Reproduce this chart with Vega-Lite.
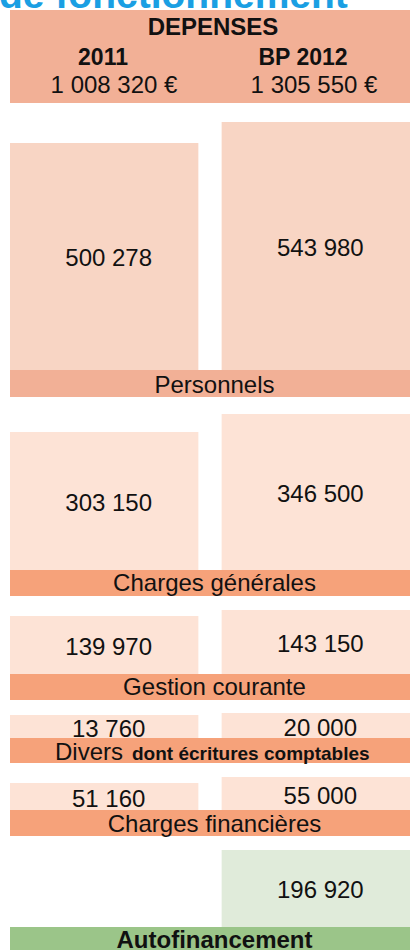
{
  "$schema": "https://vega.github.io/schema/vega-lite/v6.json",
  "background": "white",
  "padding": 0,
  "spacing": 0,
  "center": true,
  "bounds": "flush",
  "datasets": {
    "depenses": [
      {"rubrique": "Personnels", "annee": "2011", "montant": 500278},
      {"rubrique": "Personnels", "annee": "BP 2012", "montant": 543980},
      {"rubrique": "Charges générales", "annee": "2011", "montant": 303150},
      {"rubrique": "Charges générales", "annee": "BP 2012", "montant": 346500},
      {"rubrique": "Gestion courante", "annee": "2011", "montant": 139970},
      {"rubrique": "Gestion courante", "annee": "BP 2012", "montant": 143150},
      {"rubrique": "Divers", "annee": "2011", "montant": 13760},
      {"rubrique": "Divers", "annee": "BP 2012", "montant": 20000},
      {"rubrique": "Charges financières", "annee": "2011", "montant": 51160},
      {"rubrique": "Charges financières", "annee": "BP 2012", "montant": 55000},
      {"rubrique": "Autofinancement", "annee": "BP 2012", "montant": 196920}
    ],
    "totaux": [
      {"annee": "2011", "total": 1008320},
      {"annee": "BP 2012", "total": 1305550}
    ],
    "rubriques": [
      {"rubrique": "Personnels"},
      {"rubrique": "Charges générales"},
      {"rubrique": "Gestion courante"},
      {"rubrique": "Divers", "precision": "dont écritures comptables"},
      {"rubrique": "Charges financières"},
      {"rubrique": "Autofinancement"}
    ]
  },
  "vconcat": [
    {
      "width": 420, "height": 10,
      "data": {"values": [{"titre": "de fonctionnement"}]},
      "mark": {"type": "text", "clip": true, "align": "left", "baseline": "alphabetic", "dx": -211, "dy": 2.5, "fontSize": 39, "fontWeight": "bold", "color": "#1a9fe3"},
      "encoding": {"text": {"field": "titre"}}
    },
    {
      "width": 400, "height": 93,
      "view": {"fill": "#f2b096", "stroke": null},
      "layer": [
        {
          "data": {"values": [{"entete": "DEPENSES"}]},
          "mark": {"type": "text", "fontSize": 24, "fontWeight": "bold", "baseline": "alphabetic", "dx": 3, "dy": -21.5, "color": "#111111"},
          "encoding": {"text": {"field": "entete"}}
        },
        {
          "data": {"name": "totaux"},
          "mark": {"type": "text", "fontSize": 23, "fontWeight": "bold", "baseline": "alphabetic", "dx": -7, "dy": 8.5, "color": "#111111"},
          "encoding": {
            "x": {"field": "annee", "type": "nominal", "scale": {"domain": ["2011", "BP 2012"], "paddingInner": 0.11, "paddingOuter": 0}, "axis": null},
            "text": {"field": "annee"}
          }
        },
        {
          "data": {"name": "totaux"},
          "mark": {"type": "text", "fontSize": 24, "baseline": "alphabetic", "dx": 4, "dy": 36.8, "color": "#111111"},
          "encoding": {
            "x": {"field": "annee", "type": "nominal", "scale": {"domain": ["2011", "BP 2012"], "paddingInner": 0.11, "paddingOuter": 0}, "axis": null},
            "text": {"field": "total", "type": "quantitative", "format": "$,.0f"}
          }
        }
      ]
    },
    {
      "width": 400, "height": 267,
      "data": {"name": "depenses"},
      "transform": [{"filter": {"field": "rubrique", "equal": "Personnels"}}],
      "encoding": {"x": {"field": "annee", "type": "nominal", "scale": {"domain": ["2011", "BP 2012"], "paddingInner": 0.11, "paddingOuter": 0}, "axis": null}},
      "layer": [
        {"mark": {"type": "bar", "color": "#f8d5c4"},
         "encoding": {"y": {"field": "montant", "type": "quantitative", "scale": {"domain": [27881, 583518], "zero": false, "nice": false}, "axis": null}, "y2": {"datum": 27881}}},
        {"mark": {"type": "text", "fontSize": 24, "baseline": "middle", "dx": 4.5, "dy": 3, "color": "#111111"},
         "encoding": {"y": {"field": "montant", "type": "quantitative", "scale": {"domain": [27881, 1139155], "zero": false, "nice": false}, "axis": null}, "text": {"field": "montant", "type": "quantitative", "format": ",.0f"}}}
      ],
      "resolve": {"scale": {"y": "independent"}}
    },
    {
      "width": 400, "height": 27,
      "view": {"fill": "#f2b096", "stroke": null},
      "data": {"name": "rubriques"},
      "transform": [{"filter": {"field": "rubrique", "equal": "Personnels"}}],
      "mark": {"type": "text", "fontSize": 24, "baseline": "alphabetic", "dx": 4.5, "dy": 9.5, "color": "#111111"},
      "encoding": {"text": {"field": "rubrique"}}
    },
    {
      "width": 400, "height": 173,
      "data": {"name": "depenses"},
      "transform": [{"filter": {"field": "rubrique", "equal": "Charges générales"}}],
      "encoding": {"x": {"field": "annee", "type": "nominal", "scale": {"domain": ["2011", "BP 2012"], "paddingInner": 0.11, "paddingOuter": 0}, "axis": null}},
      "layer": [
        {"mark": {"type": "bar", "color": "#fde3d6"},
         "encoding": {"y": {"field": "montant", "type": "quantitative", "scale": {"domain": [-29203, 387445], "zero": false, "nice": false}, "axis": null}, "y2": {"datum": -29203}}},
        {"mark": {"type": "text", "fontSize": 24, "baseline": "middle", "dx": 4.5, "dy": 3, "color": "#111111"},
         "encoding": {"y": {"field": "montant", "type": "quantitative", "scale": {"domain": [-29203, 804093], "zero": false, "nice": false}, "axis": null}, "text": {"field": "montant", "type": "quantitative", "format": ",.0f"}}}
      ],
      "resolve": {"scale": {"y": "independent"}}
    },
    {
      "width": 400, "height": 26,
      "view": {"fill": "#f6a27a", "stroke": null},
      "data": {"name": "rubriques"},
      "transform": [{"filter": {"field": "rubrique", "equal": "Charges générales"}}],
      "mark": {"type": "text", "fontSize": 24, "baseline": "alphabetic", "dx": 4.5, "dy": 8, "color": "#111111"},
      "encoding": {"text": {"field": "rubrique"}}
    },
    {
      "width": 400, "height": 78,
      "data": {"name": "depenses"},
      "transform": [{"filter": {"field": "rubrique", "equal": "Gestion courante"}}],
      "encoding": {"x": {"field": "annee", "type": "nominal", "scale": {"domain": ["2011", "BP 2012"], "paddingInner": 0.11, "paddingOuter": 0}, "axis": null}},
      "layer": [
        {"mark": {"type": "bar", "color": "#fde3d6"},
         "encoding": {"y": {"field": "montant", "type": "quantitative", "scale": {"domain": [109230, 150570], "zero": false, "nice": false}, "axis": null}, "y2": {"datum": 109230}}},
        {"mark": {"type": "text", "fontSize": 24, "baseline": "middle", "dx": 4.5, "dy": 3, "color": "#111111"},
         "encoding": {"y": {"field": "montant", "type": "quantitative", "scale": {"domain": [109230, 191910], "zero": false, "nice": false}, "axis": null}, "text": {"field": "montant", "type": "quantitative", "format": ",.0f"}}}
      ],
      "resolve": {"scale": {"y": "independent"}}
    },
    {
      "width": 400, "height": 26,
      "view": {"fill": "#f6a27a", "stroke": null},
      "data": {"name": "rubriques"},
      "transform": [{"filter": {"field": "rubrique", "equal": "Gestion courante"}}],
      "mark": {"type": "text", "fontSize": 24, "baseline": "alphabetic", "dx": 4.5, "dy": 8, "color": "#111111"},
      "encoding": {"text": {"field": "rubrique"}}
    },
    {
      "width": 400, "height": 38,
      "data": {"name": "depenses"},
      "transform": [{"filter": {"field": "rubrique", "equal": "Divers"}}],
      "encoding": {"x": {"field": "annee", "type": "nominal", "scale": {"domain": ["2011", "BP 2012"], "paddingInner": 0.11, "paddingOuter": 0}, "axis": null}},
      "layer": [
        {"mark": {"type": "bar", "color": "#fde3d6"},
         "encoding": {"y": {"field": "montant", "type": "quantitative", "scale": {"domain": [-58000, 60560], "zero": false, "nice": false}, "axis": null}, "y2": {"datum": -58000}}},
        {"mark": {"type": "text", "fontSize": 24, "baseline": "middle", "dx": 4.5, "dy": 3, "color": "#111111"},
         "encoding": {"y": {"field": "montant", "type": "quantitative", "scale": {"domain": [-58000, 179120], "zero": false, "nice": false}, "axis": null}, "text": {"field": "montant", "type": "quantitative", "format": ",.0f"}}}
      ],
      "resolve": {"scale": {"y": "independent"}}
    },
    {
      "width": 400, "height": 25,
      "view": {"fill": "#f6a27a", "stroke": null},
      "data": {"name": "rubriques"},
      "transform": [{"filter": {"field": "rubrique", "equal": "Divers"}}],
      "layer": [
        {"mark": {"type": "text", "fontSize": 24, "align": "right", "baseline": "alphabetic", "dx": -87, "dy": 9, "color": "#111111"},
         "encoding": {"text": {"field": "rubrique"}}},
        {"mark": {"type": "text", "fontSize": 19, "fontWeight": "bold", "align": "left", "baseline": "alphabetic", "dx": -78, "dy": 9, "color": "#111111"},
         "encoding": {"text": {"field": "precision"}}}
      ]
    },
    {
      "width": 400, "height": 47,
      "data": {"name": "depenses"},
      "transform": [{"filter": {"field": "rubrique", "equal": "Charges financières"}}],
      "encoding": {"x": {"field": "annee", "type": "nominal", "scale": {"domain": ["2011", "BP 2012"], "paddingInner": 0.11, "paddingOuter": 0}, "axis": null}},
      "layer": [
        {"mark": {"type": "bar", "color": "#fde3d6"},
         "encoding": {"y": {"field": "montant", "type": "quantitative", "scale": {"domain": [33880, 63960], "zero": false, "nice": false}, "axis": null}, "y2": {"datum": 33880}}},
        {"mark": {"type": "text", "fontSize": 24, "baseline": "middle", "dx": 4.5, "dy": 3, "color": "#111111"},
         "encoding": {"y": {"field": "montant", "type": "quantitative", "scale": {"domain": [33880, 94040], "zero": false, "nice": false}, "axis": null}, "text": {"field": "montant", "type": "quantitative", "format": ",.0f"}}}
      ],
      "resolve": {"scale": {"y": "independent"}}
    },
    {
      "width": 400, "height": 26,
      "view": {"fill": "#f6a27a", "stroke": null},
      "data": {"name": "rubriques"},
      "transform": [{"filter": {"field": "rubrique", "equal": "Charges financières"}}],
      "mark": {"type": "text", "fontSize": 24, "baseline": "alphabetic", "dx": 4.5, "dy": 8.5, "color": "#111111"},
      "encoding": {"text": {"field": "rubrique"}}
    },
    {
      "width": 400, "height": 91,
      "data": {"name": "depenses"},
      "transform": [{"filter": {"field": "rubrique", "equal": "Autofinancement"}}],
      "encoding": {"x": {"field": "annee", "type": "nominal", "scale": {"domain": ["2011", "BP 2012"], "paddingInner": 0.11, "paddingOuter": 0}, "axis": null}},
      "layer": [
        {"mark": {"type": "bar", "color": "#e0ebda"},
         "encoding": {"y": {"field": "montant", "type": "quantitative", "scale": {"domain": [0, 232720], "zero": false, "nice": false}, "axis": null}, "y2": {"datum": 0}}},
        {"mark": {"type": "text", "fontSize": 24, "baseline": "middle", "dx": 4.5, "dy": 3, "color": "#111111"},
         "encoding": {"y": {"field": "montant", "type": "quantitative", "scale": {"domain": [0, 465440], "zero": false, "nice": false}, "axis": null}, "text": {"field": "montant", "type": "quantitative", "format": ",.0f"}}}
      ],
      "resolve": {"scale": {"y": "independent"}}
    },
    {
      "width": 400, "height": 27,
      "view": {"fill": "#9bc589", "stroke": null},
      "data": {"name": "rubriques"},
      "transform": [{"filter": {"field": "rubrique", "equal": "Autofinancement"}}],
      "mark": {"type": "text", "fontSize": 24, "fontWeight": "bold", "baseline": "alphabetic", "dx": 4.5, "dy": 7.5, "color": "#111111"},
      "encoding": {"text": {"field": "rubrique"}}
    }
  ],
  "config": {
    "font": "Liberation Sans",
    "view": {"stroke": null},
    "locale": {"number": {"decimal": ",", "thousands": " ", "grouping": [3], "currency": ["", " €"]}}
  }
}
